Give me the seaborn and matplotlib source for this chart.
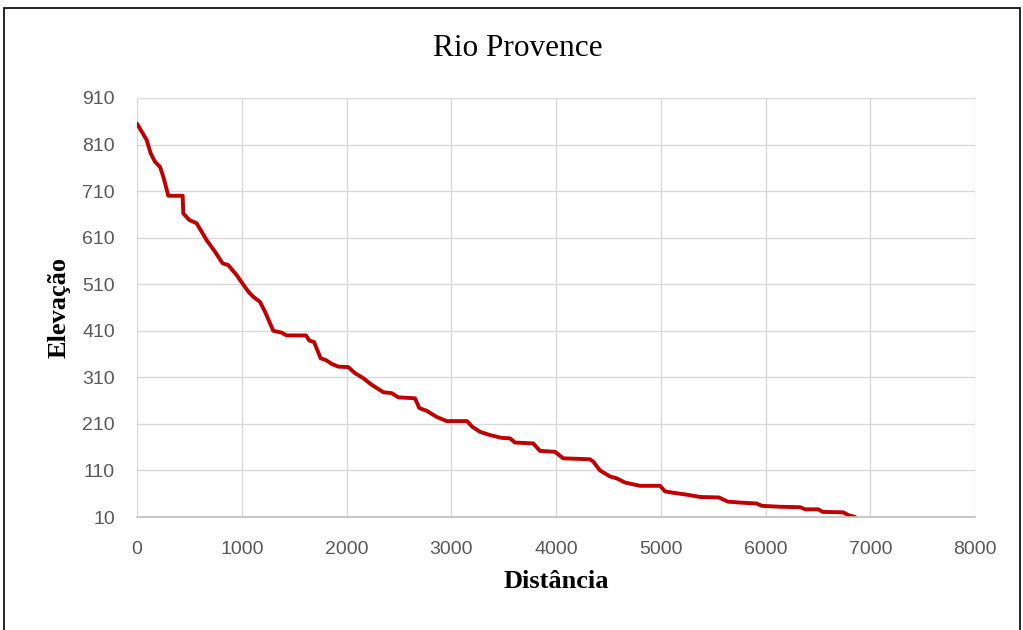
import matplotlib
matplotlib.use("Agg")
import matplotlib.pyplot as plt
import seaborn as sns
import pandas as pd
from matplotlib.patches import Rectangle

# River longitudinal profile: distance along the channel vs. elevation
distancia = [0, 92, 131, 172, 220, 251, 299, 436, 442, 499, 569, 664, 744, 817, 871,
             950, 1063, 1111, 1174, 1222, 1301, 1381, 1429, 1613, 1645, 1690, 1753,
             1804, 1858, 1921, 2017, 2081, 2161, 2240, 2352, 2431, 2495, 2654, 2695,
             2766, 2861, 2957, 3150, 3200, 3274, 3370, 3481, 3561, 3608, 3783, 3847,
             3990, 4070, 4325, 4356, 4420, 4516, 4580, 4659, 4802, 4993, 5041, 5121,
             5248, 5376, 5555, 5640, 5757, 5916, 5964, 6138, 6329, 6380, 6504, 6546,
             6743, 6791, 6855]
elevacao = [855, 820, 791, 773, 762, 741, 700, 700, 662, 648, 641, 605, 580, 555, 551,
            530, 494, 483, 472, 451, 410, 406, 400, 400, 389, 386, 351,
            347, 339, 333, 332, 319, 308, 294, 278, 276, 267, 265, 244,
            238, 225, 216, 216, 204, 193, 186, 180, 179, 170, 168, 152,
            150, 136, 134, 129, 110, 97, 93, 84, 77, 77, 65, 62,
            58, 53, 52, 43, 41, 39, 34, 32, 31, 26.5, 26.5, 21,
            20, 14, 10]

x_ticks = list(range(0, 8001, 1000))
y_ticks = list(range(10, 911, 100))

titulo = "Rio Provence"
rotulo_x = "Distância"
rotulo_y = "Elevação"

df = pd.DataFrame({"Distância": distancia, "Elevação": elevacao})

sns.set_theme(style="white")
plt.rcParams["font.family"] = ["Liberation Sans", "DejaVu Sans"]

fig = plt.figure(figsize=(10.23, 6.30), dpi=100)
ax = fig.add_axes([137 / 1023, 1 - 517 / 630, (975 - 137) / 1023, (517 - 98) / 630])

sns.lineplot(data=df, x="Distância", y="Elevação", ax=ax, sort=False,
             color="#C00000", linewidth=2.8, solid_joinstyle="round",
             solid_capstyle="round")

ax.set_xlim(0, 8000)
ax.set_ylim(10, 910)
ax.set_xticks(x_ticks)
ax.set_yticks(y_ticks)
ax.tick_params(axis="both", length=0, labelsize=14, labelcolor="#595959")
ax.tick_params(axis="x", pad=17)
ax.tick_params(axis="y", pad=16)
ax.grid(True, color="#d9d9d9", linewidth=1.0)
ax.set_axisbelow(True)
for side in ["top", "right", "left"]:
    ax.spines[side].set_visible(False)
ax.spines["bottom"].set_color("#bfbfbf")
ax.spines["bottom"].set_linewidth(1.2)

serif = ["Liberation Serif", "DejaVu Serif"]
ax.set_xlabel(rotulo_x, fontfamily=serif, fontweight="bold", fontsize=19,
              color="black", labelpad=9)
ax.set_ylabel(rotulo_y, fontfamily=serif, fontweight="bold", fontsize=19,
              color="black", labelpad=8)
fig.text(518 / 1023, 1 - 48 / 630, titulo, fontfamily=serif, fontsize=22.5,
         ha="center", va="center", color="black")

# Frame around the chart area
fig.add_artist(Rectangle((3.5 / 1023, -0.05), (1019.5 - 3.5) / 1023, 1.05 - 8.5 / 630,
                         transform=fig.transFigure, fill=False,
                         edgecolor="black", linewidth=1.2))

fig.savefig("out.png", dpi=100)
